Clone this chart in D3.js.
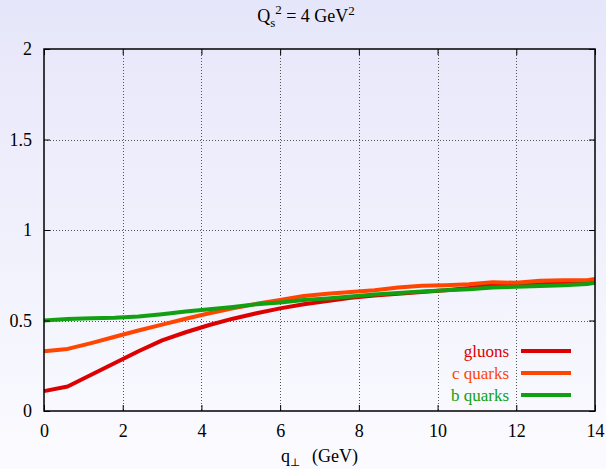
<!DOCTYPE html>
<html>
<head>
<meta charset="utf-8">
<script src="https://cdn.jsdelivr.net/npm/d3@7"></script>
<style>
  html, body { margin: 0; padding: 0; }
  svg { display: block; }
  text { font-family: "Liberation Serif", "DejaVu Serif", serif; }
</style>
</head>
<body>
<script>
// transverse momentum grid (GeV)
const qPerp = [0, 0.6, 1.2, 1.8, 2.4, 3.0, 3.6, 4.2, 4.8, 5.4, 6.0, 6.6, 7.2, 7.8, 8.4, 9.0, 9.6, 10.2, 10.8, 11.4, 12.0, 12.6, 13.2, 13.8, 14.0];
const gluons  = [0.11, 0.135, 0.20, 0.265, 0.33, 0.39, 0.435, 0.475, 0.51, 0.54, 0.567, 0.59, 0.607, 0.625, 0.638, 0.648, 0.657, 0.667, 0.68, 0.70, 0.69, 0.70, 0.705, 0.71, 0.715];
const cQuarks = [0.33, 0.343, 0.375, 0.41, 0.445, 0.477, 0.51, 0.54, 0.567, 0.592, 0.613, 0.635, 0.648, 0.658, 0.667, 0.682, 0.692, 0.695, 0.70, 0.712, 0.708, 0.72, 0.722, 0.722, 0.73];
const bQuarks = [0.50, 0.508, 0.512, 0.515, 0.522, 0.535, 0.55, 0.562, 0.575, 0.59, 0.60, 0.613, 0.622, 0.633, 0.643, 0.652, 0.66, 0.667, 0.673, 0.682, 0.686, 0.69, 0.695, 0.702, 0.708];

const seriesNames = ["gluons", "c quarks", "b quarks"];
const seriesColors = ["#dd0000", "#ff4500", "#11a011"];
const seriesValues = [gluons, cQuarks, bQuarks];

const xTicks = [0, 2, 4, 6, 8, 10, 12, 14];
const yTicks = [0, 0.5, 1, 1.5, 2];

const W = 606, H = 469;
const plotL = 44, plotR = 595, plotT = 49, plotB = 411;

const svg = d3.select("body").append("svg").attr("width", W).attr("height", H);

// background gradient
const defs = svg.append("defs");
const grad = defs.append("linearGradient").attr("id", "bg").attr("x1", 0).attr("y1", 0).attr("x2", 0).attr("y2", 1);
grad.append("stop").attr("offset", "0%").attr("stop-color", "#e6e6fa");
grad.append("stop").attr("offset", "100%").attr("stop-color", "#fbfbff");
svg.append("rect").attr("width", W).attr("height", H).attr("fill", "url(#bg)");

const x = d3.scaleLinear().domain([0, 14]).range([plotL, plotR]);
const y = d3.scaleLinear().domain([0, 2]).range([plotB, plotT]);

// dotted grid
const grid = svg.append("g").attr("stroke", "#555").attr("stroke-width", 1).attr("stroke-dasharray", "1,2");
grid.selectAll("line.v").data(xTicks.slice(1, -1)).join("line")
  .attr("x1", d => Math.round(x(d)) + 0.5).attr("x2", d => Math.round(x(d)) + 0.5)
  .attr("y1", plotT).attr("y2", plotB);
grid.selectAll("line.h").data(yTicks.slice(1, -1)).join("line")
  .attr("x1", plotL).attr("x2", plotR)
  .attr("y1", d => Math.round(y(d)) + 0.5).attr("y2", d => Math.round(y(d)) + 0.5);

// curves
const line = d3.line().x((d, i) => x(qPerp[i])).y(d => y(d));
seriesValues.forEach((vals, k) => {
  svg.append("path").datum(vals).attr("d", line)
    .attr("fill", "none").attr("stroke", seriesColors[k]).attr("stroke-width", 4)
    .attr("stroke-linejoin", "round");
});

// axes with inward ticks and mirrored ticks
const axB = svg.append("g").attr("transform", `translate(0,${plotB})`)
  .call(d3.axisBottom(x).tickValues(xTicks).tickSize(-6).tickPadding(13).tickFormat(d3.format("d")));
const axT = svg.append("g").attr("transform", `translate(0,${plotT})`)
  .call(d3.axisTop(x).tickValues(xTicks).tickSize(-6).tickFormat(""));
const axL = svg.append("g").attr("transform", `translate(${plotL},0)`)
  .call(d3.axisLeft(y).tickValues(yTicks).tickSize(-6).tickPadding(12).tickFormat(d => d));
const axR = svg.append("g").attr("transform", `translate(${plotR},0)`)
  .call(d3.axisRight(y).tickValues(yTicks).tickSize(-6).tickFormat(""));
[axB, axT, axL, axR].forEach(g => {
  g.attr("font-family", null);
  g.select(".domain").remove();
  g.selectAll("line").attr("stroke", "#000").attr("stroke-width", 1);
  g.selectAll("text").attr("font-size", 18).attr("fill", "#000")
    .style("font-family", '"Liberation Serif", serif');
});
axB.selectAll("text").attr("dy", "0.71em");

// frame
svg.append("rect").attr("x", plotL).attr("y", plotT).attr("width", plotR - plotL).attr("height", plotB - plotT)
  .attr("fill", "none").attr("stroke", "#000").attr("stroke-width", 1.5);

// title
const title = svg.append("text").attr("x", 306).attr("y", 22).attr("text-anchor", "middle")
  .attr("font-size", 18).attr("fill", "#000");
title.append("tspan").text("Q");
title.append("tspan").attr("font-size", 13).attr("dy", 5).text("s");
title.append("tspan").attr("font-size", 13).attr("dy", -13).text("2");
title.append("tspan").attr("dy", 8).text(" = 4 GeV");
title.append("tspan").attr("font-size", 13).attr("dy", -7).text("2");

// x label
const xl = svg.append("text").attr("x", 281).attr("y", 462).attr("font-size", 18).attr("fill", "#000");
xl.append("tspan").text("q");
xl.append("tspan").attr("font-size", 11).attr("dy", 4).text("\u22A5");
xl.append("tspan").attr("x", 312).attr("dy", -4).text("(GeV)");

// legend
const legend = svg.append("g");
seriesNames.forEach((name, k) => {
  const ly = 351 + k * 22;
  legend.append("text").attr("x", 509).attr("y", ly).attr("dy", "0.35em")
    .attr("text-anchor", "end").attr("font-size", 17).attr("fill", seriesColors[k]).text(name);
  legend.append("line").attr("x1", 521).attr("x2", 571).attr("y1", ly).attr("y2", ly)
    .attr("stroke", seriesColors[k]).attr("stroke-width", 4);
});
</script>
</body>
</html>
